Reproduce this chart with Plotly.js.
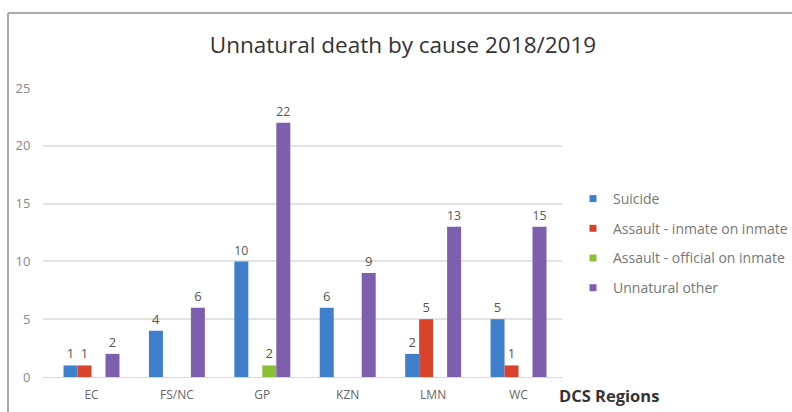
<!DOCTYPE html>
<html><head><meta charset="utf-8">
<script src="https://cdn.plot.ly/plotly-3.0.1.min.js"></script>
<style>html,body{margin:0;padding:0;background:#fff;}#chart{width:792px;height:412px;}</style>
</head><body><div id="chart"></div>
<script>
const regions = ["EC", "FS/NC", "GP", "KZN", "LMN", "WC"];
const seriesNames = ["Suicide", "Assault - inmate on inmate", "Assault - official on inmate", "Unnatural other"];
const suicide = [1, 4, 10, 6, 2, 5];
const inmateOnInmate = [1, null, null, null, 5, 1];
const officialOnInmate = [null, null, 1, null, null, null];
const unnaturalOther = [2, 6, 22, 9, 13, 13];
const suicideLabels = ["1", "4", "10", "6", "2", "5"];
const inmateLabels = ["1", "", "", "", "5", "1"];
const officialLabels = ["", "", "2", "", "", ""];
const otherLabels = ["2", "6", "22", "9", "13", "15"];
const colors = ["#3f7fcc", "#d9432c", "#8cbf36", "#7e5fae"];

const FONT = "Open Sans, sans-serif";
const vals = [suicide, inmateOnInmate, officialOnInmate, unnaturalOther];
const labs = [suicideLabels, inmateLabels, officialLabels, otherLabels];
const traces = vals.map((v, i) => ({
  type: "bar", name: seriesNames[i], x: regions, y: v, showlegend: false,
  text: labs[i], textposition: "outside", cliponaxis: false,
  textfont: {family: FONT, size: 13, color: "#555"},
  marker: {color: colors[i]}
}));
// legend entries (small square keys)
seriesNames.forEach((n, i) => traces.push({
  type: "scatter", mode: "markers", name: n, x: [null], y: [null],
  legendgroup: "g" + i, marker: {symbol: "square", size: 7, color: colors[i]}
}));

const L = 43, R = 562, T = 88, B = 377;
const px = x => (x - L) / (R - L);
const py = y => (B - y) / (B - T);

const layout = {
  width: 792, height: 412,
  margin: {l: L, r: 792 - R, t: T, b: 412 - B, autoexpand: false},
  paper_bgcolor: "#fff", plot_bgcolor: "#fff",
  barmode: "group", bargap: 0.345, bargroupgap: 0,
  title: {text: "Unnatural death by cause 2018/2019", x: px(403), xanchor: "center", xref: "paper",
          y: 1 - 45 / 412, yanchor: "middle",
          font: {family: FONT, size: 22.5, color: "#333"}},
  xaxis: {range: [-0.568, 5.509], showgrid: false, zeroline: false, showline: true, linecolor: "#d9d9d9",
          ticks: "outside", ticklen: 7, tickcolor: "rgba(0,0,0,0)",
          tickfont: {family: FONT, size: 12, color: "#666"}},
  yaxis: {range: [0, 25], dtick: 5, showgrid: true, gridcolor: "#e3e3e3", gridwidth: 2, zeroline: false,
          ticks: "outside", ticklen: 9, tickcolor: "rgba(0,0,0,0)",
          tickfont: {family: FONT, size: 13, color: "#888"}},
  legend: {x: px(573), y: py(183), xanchor: "left", yanchor: "top", tracegroupgap: 8.5,
           itemwidth: 30, font: {family: FONT, size: 14, color: "#777"}},
  showlegend: true,
  annotations: [{xref: "paper", yref: "paper", x: px(557), y: py(396), xanchor: "left", yanchor: "middle",
                 showarrow: false, text: "<b>DCS Regions</b>",
                 font: {family: FONT, size: 16.5, color: "#333"}}],
  shapes: [
    {type: "line", xref: "paper", yref: "paper", x0: px(8), x1: px(800), y0: py(13), y1: py(13), line: {color: "#aaa", width: 2}},
    {type: "line", xref: "paper", yref: "paper", x0: px(8), x1: px(8), y0: py(13), y1: py(420), line: {color: "#aaa", width: 2}}
  ]
};
Plotly.newPlot("chart", traces, layout, {displayModeBar: false, staticPlot: true});
</script></body></html>
